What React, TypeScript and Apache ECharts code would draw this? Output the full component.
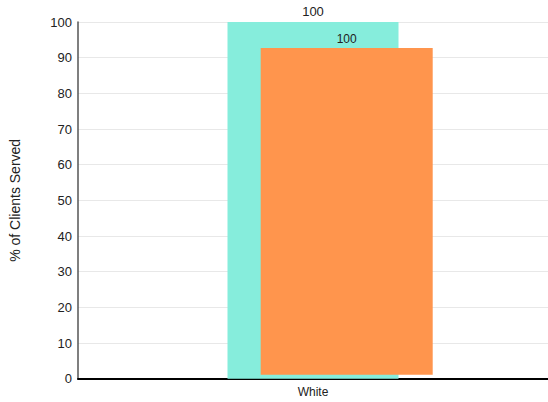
import React, { useEffect, useRef } from "react";
import * as echarts from "echarts";

const categories = ["White"];
const tealValues = [100];
const orangeValues = [100];
const placeholderValues = ["-"];
const yTicks = { min: 0, max: 100, interval: 10 };
const yAxisTitle = "% of Clients Served";

export default function App() {
  const ref = useRef<HTMLDivElement>(null);
  useEffect(() => {
    const chart = echarts.init(ref.current!, null, { renderer: "svg" });
    const font = "Liberation Sans, Arial, sans-serif";
    chart.setOption({
      animation: false,
      grid: [
        { left: 73, right: 0, top: 22, bottom: 23.3, containLabel: false },
        { left: 73, right: 0, top: 22, bottom: 23.3, containLabel: false },
      ],
      xAxis: [
        {
          type: "category",
          gridIndex: 0,
          data: categories,
          axisLine: { lineStyle: { color: "#000", width: 2 } },
          axisTick: { show: false },
          axisLabel: { color: "#222", fontSize: 12, fontFamily: font, margin: 7 },
        },
        {
          type: "category",
          gridIndex: 1,
          data: categories,
          show: false,
        },
      ],
      yAxis: [
        {
          type: "value",
          gridIndex: 0,
          min: yTicks.min,
          max: yTicks.max,
          interval: yTicks.interval,
          name: yAxisTitle,
          nameLocation: "middle",
          nameGap: 56,
          nameRotate: 90,
          nameTextStyle: { color: "#222", fontSize: 14, fontFamily: font },
          axisLine: { show: true, lineStyle: { color: "#555", width: 1.5 } },
          axisTick: { show: false },
          axisLabel: { color: "#222", fontSize: 13, fontFamily: font, margin: 6 },
          splitLine: { lineStyle: { color: "#e8e8e8", width: 1 } },
        },
        {
          type: "value",
          gridIndex: 1,
          min: -1.22,
          max: 107.96,
          show: false,
          splitLine: { show: false },
        },
      ],
      series: [
        {
          type: "bar",
          xAxisIndex: 0,
          yAxisIndex: 0,
          data: tealValues,
          barWidth: 171,
          itemStyle: { color: "#86EDDC" },
          label: {
            show: true,
            position: "top",
            distance: 4,
            color: "#222",
            fontSize: 13,
            fontFamily: font,
          },
        },
        {
          type: "bar",
          xAxisIndex: 1,
          yAxisIndex: 1,
          data: placeholderValues,
          barWidth: 172,
          barGap: "-57.9%",
          silent: true,
          itemStyle: { color: "transparent" },
          label: { show: false },
        },
        {
          type: "bar",
          xAxisIndex: 1,
          yAxisIndex: 1,
          data: orangeValues,
          barWidth: 172,
          barGap: "-57.9%",
          itemStyle: { color: "#FF954D" },
          label: {
            show: true,
            position: "top",
            distance: 3,
            color: "#222",
            fontSize: 12,
            fontFamily: font,
          },
        },
      ],
    });
    return () => chart.dispose();
  }, []);
  return <div ref={ref} style={{ width: 548, height: 402, position: "absolute", left: 0, top: 0 }} />;
}
